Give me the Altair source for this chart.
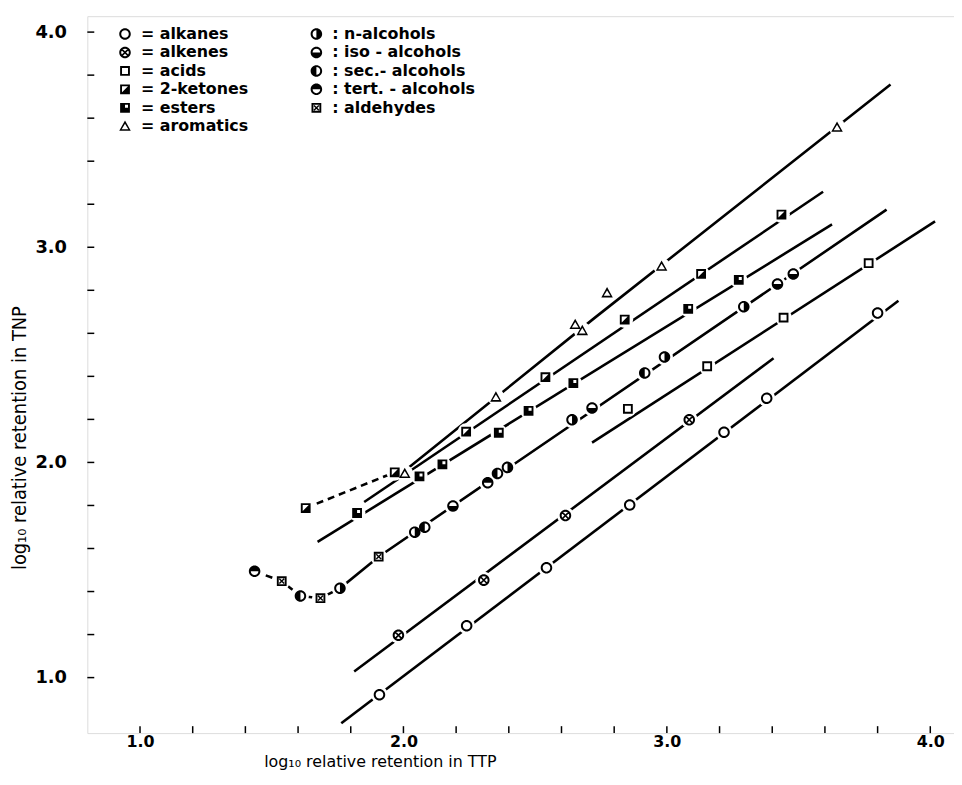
import altair as alt
import pandas as pd

# ---------------- data ----------------
# legend entries, column by column (left column first)
legend_order = ["= alkanes", "= alkenes", "= acids", "= 2-ketones", "= esters",
                "= aromatics", ": n-alcohols", ": iso - alcohols", ": sec.- alcohols",
                ": tert. - alcohols", ": aldehydes"]

alkanes_x = [1.909, 2.240, 2.543, 2.859, 3.217, 3.379, 3.800]
alkanes_y = [0.920, 1.241, 1.510, 1.802, 2.140, 2.298, 2.694]
alkenes_x = [1.981, 2.305, 2.615, 3.085]
alkenes_y = [1.197, 1.453, 1.753, 2.198]
acids_x = [2.852, 3.153, 3.443, 3.766]
acids_y = [2.249, 2.447, 2.673, 2.926]
ketones_x = [1.629, 1.967, 2.238, 2.539, 2.840, 3.130, 3.435]
ketones_y = [1.788, 1.954, 2.143, 2.396, 2.664, 2.876, 3.152]
esters_x = [1.824, 2.061, 2.148, 2.362, 2.475, 2.645, 3.081, 3.273]
esters_y = [1.765, 1.935, 1.991, 2.138, 2.240, 2.369, 2.714, 2.848]
aromatics_x = [2.005, 2.351, 2.652, 2.679, 2.773, 2.980, 3.646]
aromatics_y = [1.949, 2.304, 2.641, 2.613, 2.788, 2.912, 3.558]
n_alc_x = [1.759, 2.043, 2.395, 2.640, 2.991, 3.292]
n_alc_y = [1.415, 1.676, 1.977, 2.198, 2.490, 2.724]
iso_alc_x = [2.188, 2.716, 3.420, 3.480]
iso_alc_y = [1.797, 2.253, 2.829, 2.876]
sec_alc_x = [1.609, 2.081, 2.357, 2.916]
sec_alc_y = [1.379, 1.699, 1.949, 2.416]
tert_alc_x = [1.435, 2.320]
tert_alc_y = [1.494, 1.906]
aldehydes_x = [1.538, 1.685, 1.906]
aldehydes_y = [1.448, 1.369, 1.562]

# hand-drawn curves (vertices)
alkane_line_x = [1.764, 3.879]
alkane_line_y = [0.788, 2.751]
alkene_line_x = [1.813, 3.405]
alkene_line_y = [1.028, 2.484]
acid_line_x = [2.716, 4.018]
acid_line_y = [2.092, 3.120]
alcohol_line_x = [1.685, 1.759, 1.906, 3.834]
alcohol_line_y = [1.369, 1.415, 1.562, 3.175]
alcohol_dash_x = [1.435, 1.538, 1.609, 1.685]
alcohol_dash_y = [1.494, 1.448, 1.379, 1.369]
ester_line_x = [1.674, 3.627]
ester_line_y = [1.631, 3.106]
ketone_line_x = [1.851, 3.593]
ketone_line_y = [1.816, 3.258]
ketone_dash_x = [1.629, 1.967]
ketone_dash_y = [1.788, 1.954]
aromatic_line_x = [2.012, 2.727, 3.849]
aromatic_line_y = [1.968, 2.673, 3.756]

x_ticks = [1.0, 1.2, 1.4, 1.6, 1.8, 2.0, 2.2, 2.4, 2.6, 2.8, 3.0,
           3.2, 3.4, 3.6, 3.8, 4.0]
y_ticks = [1.0, 1.2, 1.4, 1.6, 1.8, 2.0, 2.2, 2.4, 2.6, 2.8, 3.0,
           3.2, 3.4, 3.6, 3.8, 4.0]
axis_labels = [1.0, 2.0, 3.0, 4.0]

# ---------------- symbol glyphs ----------------
RING_C = ("M0,-1A1,1 0 1,1 0,1A1,1 0 1,1 0,-1Z "
          "M0,-0.66A0.66,0.66 0 1,0 0,0.66A0.66,0.66 0 1,0 0,-0.66Z")
RING_S = ("M-0.85,-0.85L0.85,-0.85L0.85,0.85L-0.85,0.85Z "
          "M-0.52,-0.52L-0.52,0.52L0.52,0.52L0.52,-0.52Z")
X_BIG = ("M-0.6,-0.4L-0.4,-0.6L0.6,0.4L0.4,0.6Z "
         "M0.4,-0.6L0.6,-0.4L-0.4,0.6L-0.6,0.4Z")
X_SMALL = ("M-0.5,-0.33L-0.33,-0.5L0.5,0.33L0.33,0.5Z "
           "M0.33,-0.5L0.5,-0.33L-0.33,0.5L-0.5,0.33Z")
shape_paths = {
    "= alkanes": RING_C,
    "= alkenes": RING_C + " " + X_BIG,
    "= acids": RING_S,
    "= 2-ketones": RING_S + " M0.52,-0.52L0.52,0.52L-0.52,0.52Z",
    "= esters": RING_S + " M-0.52,-0.52L0,-0.52L0,0L0.52,0L0.52,0.52L-0.52,0.52Z",
    "= aromatics": "M0,-1L1,0.8L-1,0.8Z M0,-0.42L-0.58,0.52L0.58,0.52Z",
    ": n-alcohols": RING_C + " M0,-0.66A0.66,0.66 0 0,1 0,0.66Z",
    ": iso - alcohols": RING_C + " M0.66,0A0.66,0.66 0 0,1 -0.66,0Z",
    ": sec.- alcohols": RING_C + " M0,0.66A0.66,0.66 0 0,1 0,-0.66Z",
    ": tert. - alcohols": RING_C + " M-0.66,0A0.66,0.66 0 0,1 0.66,0Z",
    ": aldehydes": RING_S + " " + X_SMALL,
}

series = [
    ("= alkanes", alkanes_x, alkanes_y),
    ("= alkenes", alkenes_x, alkenes_y),
    ("= acids", acids_x, acids_y),
    ("= 2-ketones", ketones_x, ketones_y),
    ("= esters", esters_x, esters_y),
    ("= aromatics", aromatics_x, aromatics_y),
    (": n-alcohols", n_alc_x, n_alc_y),
    (": iso - alcohols", iso_alc_x, iso_alc_y),
    (": sec.- alcohols", sec_alc_x, sec_alc_y),
    (": tert. - alcohols", tert_alc_x, tert_alc_y),
    (": aldehydes", aldehydes_x, aldehydes_y),
]
pts = pd.DataFrame([{"cls": c, "x": x, "y": y}
                    for c, xs, ys in series for x, y in zip(xs, ys)])

lines_solid = [
    ("alkane", alkane_line_x, alkane_line_y),
    ("alkene", alkene_line_x, alkene_line_y),
    ("acid", acid_line_x, acid_line_y),
    ("alcohol", alcohol_line_x, alcohol_line_y),
    ("ester", ester_line_x, ester_line_y),
    ("ketone", ketone_line_x, ketone_line_y),
    ("aromatic", aromatic_line_x, aromatic_line_y),
]
lines_dashed = [
    ("alcohol_d", alcohol_dash_x, alcohol_dash_y),
    ("ketone_d", ketone_dash_x, ketone_dash_y),
]


def line_df(lines):
    return pd.DataFrame([{"id": n, "o": i, "x": x, "y": y}
                         for n, xs, ys in lines
                         for i, (x, y) in enumerate(zip(xs, ys))])


solid_df = line_df(lines_solid)
dash_df = line_df(lines_dashed)

W, H = 874, 723
xs = alt.Scale(domain=[0.80, 4.09], nice=False, zero=False)
ys = alt.Scale(domain=[0.742, 4.074], nice=False, zero=False)

X_AX = alt.Axis(values=axis_labels, format=".1f", ticks=False, domain=False, grid=False,
                labelPadding=1, labelFontSize=16, labelFont="DejaVu Sans",
                labelFontWeight="bold", labelColor="black",
                title="log\u2081\u2080 relative  retention in TTP",
                titleFont="DejaVu Sans", titleFontSize=16, titleFontWeight="normal",
                titleColor="black", titleX=295, titleY=21, titleBaseline="top")
Y_AX = alt.Axis(values=axis_labels, format=".1f", ticks=False, domain=False, grid=False,
                labelPadding=21, labelFontSize=18, labelFont="DejaVu Sans",
                labelFontWeight="bold", labelColor="black",
                title="log\u2081\u2080 relative retention in TNP",
                titleFont="Liberation Sans Narrow, DejaVu Sans Condensed, Liberation Sans",
                titleFontSize=20, titleFontWeight="normal", titleColor="black",
                titleX=-68, titleY=425, titleAngle=270, titleBaseline="middle",
                titleAlign="center")

xt = alt.Chart(pd.DataFrame({"t": x_ticks})).mark_rule(
    color="black", strokeWidth=1.5).encode(
    x=alt.X("t:Q", scale=xs, axis=X_AX), y=alt.value(H), y2=alt.value(H - 7))
yt = alt.Chart(pd.DataFrame({"t": y_ticks})).mark_rule(
    color="black", strokeWidth=1.5).encode(
    y=alt.Y("t:Q", scale=ys, axis=Y_AX), x=alt.value(0), x2=alt.value(7))

solid = alt.Chart(solid_df).mark_line(color="black", strokeWidth=2.6).encode(
    x=alt.X("x:Q", scale=xs), y=alt.Y("y:Q", scale=ys), detail="id:N", order="o:Q")
dashed = alt.Chart(dash_df).mark_line(color="black", strokeWidth=2.6,
                                      strokeDash=[7, 5]).encode(
    x=alt.X("x:Q", scale=xs), y=alt.Y("y:Q", scale=ys), detail="id:N", order="o:Q")

halo = alt.Chart(pts).mark_circle(color="white", opacity=1, size=290).encode(
    x=alt.X("x:Q", scale=xs), y=alt.Y("y:Q", scale=ys))

symbols = alt.Chart(pts).mark_point(filled=True, color="black", opacity=1,
                                    strokeWidth=0, size=135).encode(
    x=alt.X("x:Q", scale=xs),
    y=alt.Y("y:Q", scale=ys),
    shape=alt.Shape("cls:N",
                    scale=alt.Scale(domain=legend_order,
                                    range=[shape_paths[k] for k in legend_order]),
                    legend=alt.Legend(orient="none", legendX=30, legendY=10,
                                      columns=2, title=None, columnPadding=60,
                                      rowPadding=2.6, padding=0, labelOffset=8,
                                      labelFont="DejaVu Sans", labelFontSize=16,
                                      labelFontWeight="bold", labelColor="black",
                                      labelLimit=0, symbolSize=135,
                                      symbolFillColor="black", symbolStrokeWidth=0,
                                      symbolOpacity=1)),
)

chart = alt.layer(xt, yt, solid, dashed, halo, symbols).properties(
    width=W, height=H,
    autosize=alt.AutoSizeParams(type="none"),
    padding={"left": 80, "top": 5, "right": 0, "bottom": 39},
).configure_view(stroke="black", strokeWidth=2.6).configure(background="white")

chart.save("out.html", embed_options={"renderer": "svg", "actions": False})
